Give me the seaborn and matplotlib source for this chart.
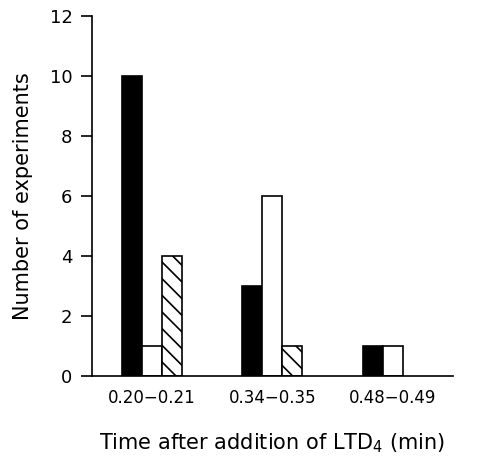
import matplotlib
matplotlib.use("Agg")
import matplotlib.pyplot as plt
import numpy as np
import pandas as pd
import seaborn as sns

time_ranges = ['0.20\u22120.21', '0.34\u22120.35', '0.48\u22120.49']
series = ['black', 'white', 'hatched']
black_counts = [10, 3, 1]
white_counts = [1, 6, 1]
hatched_counts = [4, 1, 0]

df = pd.DataFrame({
    'time': time_ranges * 3,
    'kind': [s for s in series for _ in time_ranges],
    'count': black_counts + white_counts + hatched_counts,
})

sns.set_style('ticks')
plt.rcParams['font.family'] = ['DejaVu Sans']
plt.rcParams['hatch.linewidth'] = 1.2
for k in ['text.color', 'axes.labelcolor', 'xtick.color', 'ytick.color', 'axes.edgecolor']:
    plt.rcParams[k] = 'black'

fig = plt.figure(figsize=(4.86, 4.61), dpi=100)
ax = fig.add_axes([0.189, 0.184, 0.743, 0.781])
sns.barplot(data=df, x='time', y='count', hue='kind', hue_order=series,
            palette={'black': 'black', 'white': 'white', 'hatched': 'white'},
            width=0.5, gap=0, edgecolor='black', linewidth=1.2, ax=ax,
            legend=False)

for cont, name in zip(ax.containers, series):
    for bar in cont:
        if name == 'hatched':
            bar.set_hatch('\\\\')
        if bar.get_height() == 0:
            bar.set_visible(False)

ax.set_xlim(-0.5, 2.5)
ax.set_ylim(0, 12)
ax.set_yticks(range(0, 13, 2))
ax.tick_params(axis='x', length=0, labelsize=12, pad=9)
ax.tick_params(axis='y', length=8, width=1.2, labelsize=13, direction='out', pad=6)
ax.set_xlabel('Time after addition of LTD$_4$ (min)', fontsize=15, labelpad=18)
ax.set_ylabel('Number of experiments', fontsize=15, labelpad=12)
for s in ['left', 'bottom']:
    ax.spines[s].set_linewidth(1.2)
sns.despine(ax=ax)

fig.savefig('out.png', dpi=100)
